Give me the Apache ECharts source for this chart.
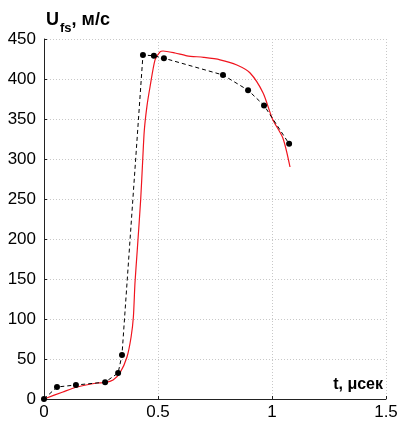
<!DOCTYPE html>
<html><head><meta charset="utf-8">
<script src="https://cdn.jsdelivr.net/npm/echarts@6/dist/echarts.min.js"></script>
<style>html,body{margin:0;padding:0;background:#fff}#c{width:401px;height:423px}</style>
</head><body><div id="c"></div>
<script>
// Experimental points (t, µs ; U_fs, m/s)
var expT = [0, 0.057, 0.140, 0.268, 0.325, 0.342, 0.434, 0.482, 0.526, 0.785, 0.895, 0.965, 1.075];
var expU = [0, 15, 17.5, 21, 32.5, 55, 430, 429, 426, 405, 386, 367, 319];
// Calculated curve (red)
var calcT = [0, 0.083, 0.145, 0.232, 0.268, 0.303, 0.333, 0.364, 0.382, 0.392, 0.399, 0.409, 0.424, 0.433, 0.440, 0.452, 0.465, 0.487, 0.509, 0.522, 0.575, 0.627, 0.700, 0.772, 0.846, 0.904, 0.961, 1.002, 1.048, 1.079];
var calcU = [0, 8.8, 15, 20, 20.6, 23.8, 32.5, 52.5, 77.5, 102.5, 145, 186, 249, 299, 336, 367, 390, 424, 434, 435, 432.5, 429, 427, 424, 417.5, 407.5, 382.5, 350, 326, 290];
var xTicks = [0, 0.5, 1, 1.5];
var yTicks = [0, 50, 100, 150, 200, 250, 300, 350, 400, 450];

function zip(a, b) { return a.map(function (v, i) { return [v, b[i]]; }); }

var chart = echarts.init(document.getElementById('c'), null, {renderer: 'canvas'});
var FONT = 'Liberation Sans, Arial, sans-serif';
chart.setOption({
  animation: false,
  grid: {left: 44, right: 15, top: 39, bottom: 24},
  xAxis: {
    type: 'value', min: 0, max: 1.5, interval: 0.5,
    axisLine: {lineStyle: {color: '#222', width: 1}},
    axisTick: {inside: true, length: 3, lineStyle: {color: '#222'}},
    axisLabel: {color: '#000', fontSize: 17, fontFamily: FONT, margin: 5,
      formatter: function (v) { return xTicks.indexOf(v) >= 0 ? String(v) : ''; }},
    splitLine: {show: true, lineStyle: {color: '#c8c8c8', type: [1, 2], width: 1}}
  },
  yAxis: {
    type: 'value', min: 0, max: 450, interval: 50,
    axisLine: {show: true, lineStyle: {color: '#222', width: 1}},
    axisTick: {show: true, inside: true, length: 3, lineStyle: {color: '#222'}},
    axisLabel: {color: '#000', fontSize: 17, fontFamily: FONT, margin: 8,
      formatter: function (v) { return yTicks.indexOf(v) >= 0 ? String(v) : ''; }},
    splitLine: {show: true, lineStyle: {color: '#c8c8c8', type: [1, 2], width: 1}}
  },
  series: [
    {
      type: 'line', data: zip(calcT, calcU), smooth: 0.25, symbol: 'none',
      lineStyle: {color: '#f0141e', width: 1.2}, z: 2
    },
    {
      type: 'line', data: zip(expT, expU), symbol: 'circle', symbolSize: 6,
      clip: false,
      itemStyle: {color: '#000'},
      lineStyle: {color: '#000', width: 1, type: [4, 3]}, z: 3
    }
  ],
  graphic: [
    {type: 'text', left: 46, top: 11, style: {
      text: '{u|U}{s|fs}{u|, м/с}',
      rich: {
        u: {fontSize: 18, fontWeight: 'bold', fontFamily: FONT, fill: '#000', verticalAlign: 'bottom'},
        s: {fontSize: 13, fontWeight: 'bold', fontFamily: FONT, fill: '#000', padding: [0, 0, -6, 1], verticalAlign: 'bottom'}
      }
    }},
    {type: 'text', right: 18, top: 377, style: {
      text: 't, μсек', fontSize: 16, fontWeight: 'bold', fontFamily: FONT, fill: '#000'
    }}
  ]
});
</script></body></html>
